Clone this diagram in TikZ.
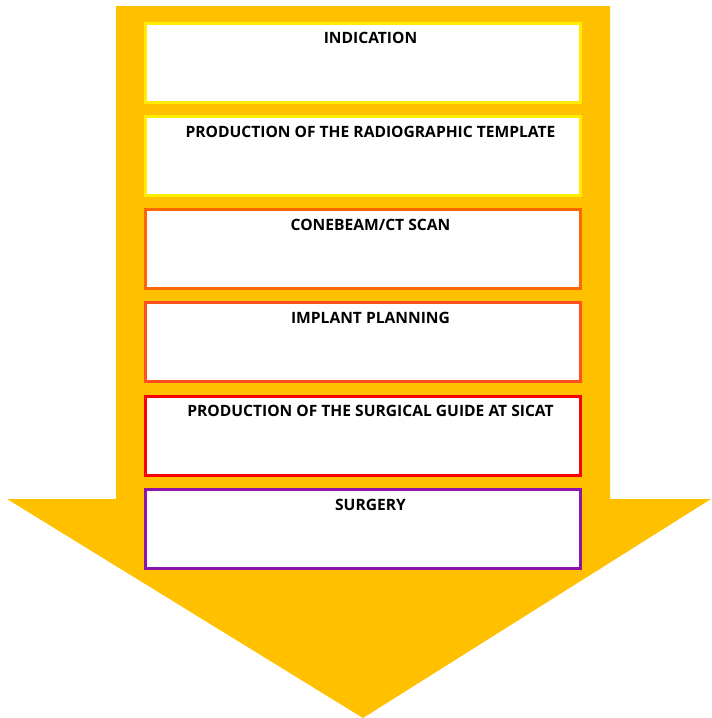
\documentclass[tikz,border=0pt]{standalone}
\usepackage{fontspec}
\setmainfont{Open Sans}
\usetikzlibrary{positioning}
\definecolor{amber}{RGB}{255, 192, 0}
\definecolor{lemon}{RGB}{255, 236, 0}
\definecolor{tangerine}{RGB}{255, 102, 0}
\definecolor{vermilion}{RGB}{255, 80, 30}
\definecolor{scarlet}{RGB}{255, 0, 0}
\definecolor{violet}{RGB}{140, 20, 170}

\tikzset{
  stepbox/.style={draw=#1, fill=white, line width=2.25pt, outer sep=0pt,
    minimum width=326.25pt, minimum height=59.25pt, inner sep=0pt},
  boxtitle/.style={anchor=north, yshift=-3.6pt, xshift=6pt,
    font=\bfseries\fontsize{11.7}{14}\selectfont}
}

\begin{document}
\begin{tikzpicture}[x=0.75pt, y=-0.75pt, node distance=10.7pt]
            % Frame to fix the margins
            \useasboundingbox (0,0) rectangle (711,718);
            % Big arrow
            \fill[amber] (116,6) -- (610,6) -- (610,499) -- (711,499) -- (363,718)
                         -- (7,499) -- (116,499) -- cycle;
            % Steps
            \node[stepbox=lemon, label={[boxtitle]north:INDICATION}] (indication) at (362.5,62.5) {};
            \node[stepbox=lemon, label={[boxtitle]north:PRODUCTION OF THE RADIOGRAPHIC TEMPLATE},
                  below=of indication] (template) {};
            \node[stepbox=tangerine, label={[boxtitle]north:CONEBEAM/CT SCAN},
                  below=of template] (scan) {};
            \node[stepbox=vermilion, label={[boxtitle]north:IMPLANT PLANNING},
                  below=of scan] (planning) {};
            \node[stepbox=scarlet, label={[boxtitle]north:PRODUCTION OF THE SURGICAL GUIDE AT SICAT},
                  below=of planning] (guide) {};
            \node[stepbox=violet, label={[boxtitle]north:SURGERY},
                  below=of guide] (surgery) {};
        \end{tikzpicture}
\end{document}
